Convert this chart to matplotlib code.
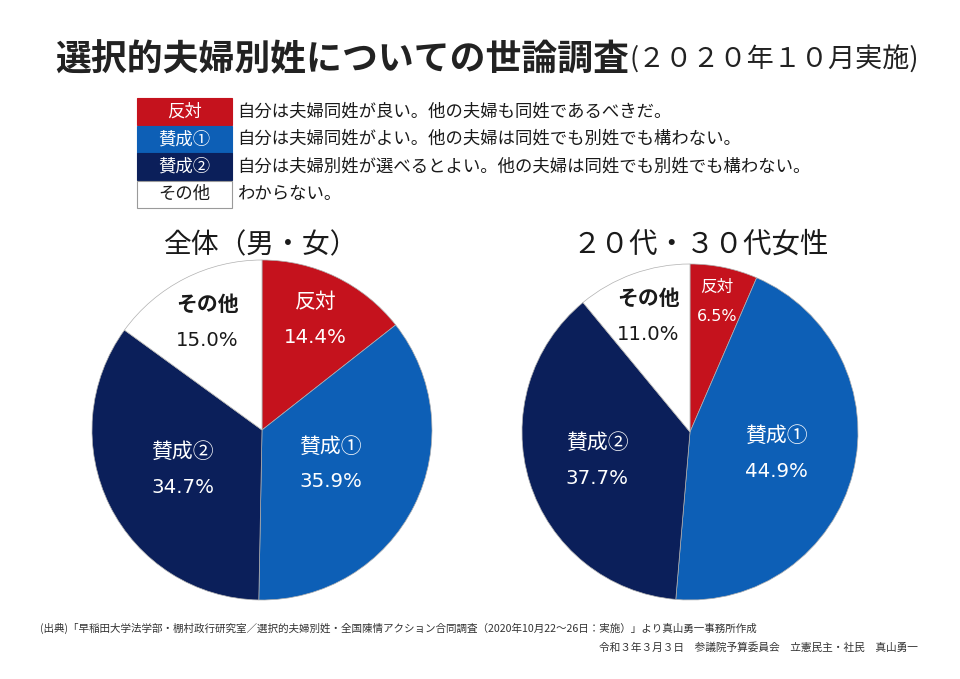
import math

import matplotlib
matplotlib.use("Agg")
import matplotlib.pyplot as plt
from matplotlib.patches import Rectangle

plt.rcParams["font.family"] = ["Noto Sans CJK JP", "DejaVu Sans"]

# --- data -------------------------------------------------------------
categories = ["反対", "賛成①", "賛成②", "その他"]
descriptions = [
    "自分は夫婦同姓が良い。他の夫婦も同姓であるべきだ。",
    "自分は夫婦同姓がよい。他の夫婦は同姓でも別姓でも構わない。",
    "自分は夫婦別姓が選べるとよい。他の夫婦は同姓でも別姓でも構わない。",
    "わからない。",
]
overall = [14.4, 35.9, 34.7, 15.0]
women_20s_30s = [6.5, 44.9, 37.7, 11.0]

title_main = "選択的夫婦別姓についての世論調査"
title_sub = "(２０２０年１０月実施)"
pie_titles = ["全体（男・女）", "２０代・３０代女性"]
source_note = ("(出典)「早稲田大学法学部・棚村政行研究室／選択的夫婦別姓・全国陳情アクション合同調査"
               "（2020年10月22～26日：実施）」より真山勇一事務所作成")
footer_note = "令和３年３月３日　参議院予算委員会　立憲民主・社民　真山勇一"

# --- style ------------------------------------------------------------
colors = ["#c5121d", "#0d5fb6", "#0b1f5a", "#ffffff"]
text_colors = ["white", "white", "white", "#1a1a1a"]
W, H = 960, 679

fig = plt.figure(figsize=(W / 100, H / 100), dpi=100)
fig.patch.set_facecolor("white")

# overlay axes in pixel coordinates for titles / legend / notes
bg = fig.add_axes([0, 0, 1, 1])
bg.set_xlim(0, W)
bg.set_ylim(H, 0)
bg.axis("off")

bg.text(55, 60, title_main, fontsize=25.8, fontweight="bold", color="#222222",
        ha="left", va="center")
bg.text(629, 60, title_sub, fontsize=19.5, color="#222222", ha="left", va="center")

# legend boxes
box_x, box_w, box_h, top = 137, 95, 27, 98
for i, (cat, desc) in enumerate(zip(categories, descriptions)):
    y0 = top + i * 27.5
    bg.add_patch(Rectangle((box_x, y0), box_w, box_h, facecolor=colors[i],
                           edgecolor="#9a9a9a" if i == 3 else colors[i], linewidth=0.8))
    bg.text(box_x + box_w / 2, y0 + box_h / 2, cat, fontsize=12.5, color=text_colors[i],
            ha="center", va="center")
    bg.text(237, y0 + box_h / 2, desc, fontsize=12.5, color="#1a1a1a",
            ha="left", va="center")

bg.text(261, 245, pie_titles[0], fontsize=20, color="#1a1a1a", ha="center", va="center")
bg.text(701, 245, pie_titles[1], fontsize=20.5, color="#1a1a1a", ha="center", va="center")

bg.text(40, 628, source_note, fontsize=7.6, color="#333333", ha="left", va="center")
bg.text(918, 648, footer_note, fontsize=7.7, color="#333333", ha="right", va="center")

# --- pies -------------------------------------------------------------
pie_specs = [
    # (center x, center y, radius) in pixels, label radii, font sizes
    ((262, 430, 170), overall, [0.72, 0.45, 0.52, 0.71], [15, 15, 15, 15]),
    ((690, 432, 168), women_20s_30s, [0.79, 0.53, 0.58, 0.73], [12, 15, 15, 15]),
]

for (cx, cy, r), values, label_r, sizes in pie_specs:
    ax = fig.add_axes([(cx - r) / W, 1 - (cy + r) / H, 2 * r / W, 2 * r / H])
    wedges, _ = ax.pie(values, colors=colors, startangle=90, counterclock=False,
                       wedgeprops=dict(edgecolor="#b0b0b0", linewidth=0.5))
    ax.set_xlim(-1, 1)
    ax.set_ylim(-1, 1)
    ax.set_aspect("equal")
    for i, w in enumerate(wedges):
        mid = math.radians((w.theta1 + w.theta2) / 2)
        x, y = label_r[i] * math.cos(mid), label_r[i] * math.sin(mid)
        off = sizes[i] * 0.85
        weight = "bold" if i == 3 else "normal"
        ax.annotate(categories[i], xy=(x, y), xytext=(0, off), textcoords="offset points",
                    ha="center", va="center", fontsize=sizes[i], color=text_colors[i],
                    fontweight=weight)
        ax.annotate(f"{values[i]:.1f}%", xy=(x, y), xytext=(0, -off),
                    textcoords="offset points", ha="center", va="center",
                    fontsize=sizes[i] * 0.95, color=text_colors[i],
                    family=["DejaVu Sans"])

fig.savefig("out.png", dpi=100)
